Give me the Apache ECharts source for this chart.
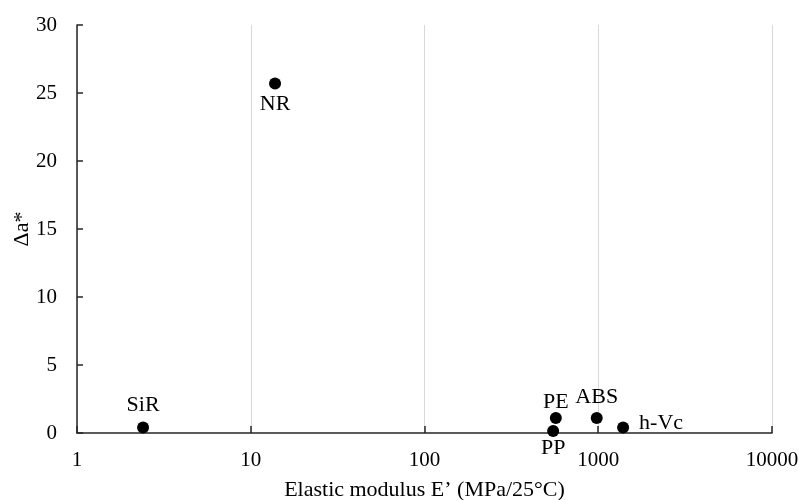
<!DOCTYPE html>
<html>
<head>
<meta charset="utf-8">
<script src="https://cdn.jsdelivr.net/npm/echarts@6/dist/echarts.min.js"></script>
<style>html,body{margin:0;padding:0;background:#fff;}#c{width:803px;height:500px;}</style>
</head>
<body>
<div id="c"></div>
<script>
var materials = ['SiR', 'NR', 'PE', 'PP', 'ABS', 'h-Vc'];
var modulus = [2.4, 13.8, 570, 550, 980, 1390];
var deltaA = [0.4, 25.7, 1.1, 0.15, 1.1, 0.4];
var xTicks = [1, 10, 100, 1000, 10000];
var yTicks = [0, 5, 10, 15, 20, 25, 30];

var labelStyle = {
  'SiR': {position: 'top', distance: 5},
  'NR': {position: 'bottom', distance: 4},
  'PE': {position: 'top', distance: -1},
  'PP': {position: 'bottom', distance: 0},
  'ABS': {position: 'top', distance: 4},
  'h-Vc': {position: 'right', distance: 10, offset: [0, -4]}
};

var font = 'Liberation Serif';
var data = materials.map(function (m, i) {
  return {name: m, value: [modulus[i], deltaA[i]], label: labelStyle[m]};
});

var chart = echarts.init(document.getElementById('c'), null, {renderer: 'canvas'});
chart.setOption({
  backgroundColor: '#fff',
  animation: false,
  grid: {left: 77, right: 31, top: 25, bottom: 67, containLabel: false, outerBoundsMode: 'none'},
  xAxis: {
    type: 'log', logBase: 10, min: xTicks[0], max: xTicks[xTicks.length - 1],
    name: 'Elastic modulus E\u2019 (MPa/25\u00B0C)', nameLocation: 'middle', nameGap: 46,
    nameMoveOverlap: false,
    nameTextStyle: {fontFamily: font, fontSize: 22, color: '#000'},
    axisLine: {show: true, lineStyle: {color: '#262626', width: 1.5}},
    axisTick: {show: true, inside: true, length: 7, lineStyle: {color: '#262626', width: 1.5}},
    minorTick: {show: false},
    axisLabel: {fontFamily: font, fontSize: 21, color: '#000', margin: 17,
      formatter: function (v) { return String(Math.round(v)); }},
    splitLine: {show: true, lineStyle: {color: '#d9d9d9', width: 1}}
  },
  yAxis: {
    type: 'value', min: yTicks[0], max: yTicks[yTicks.length - 1], interval: 5,
    name: '\u0394a*', nameLocation: 'middle', nameGap: 44, nameRotate: 90,
    nameMoveOverlap: false,
    nameTextStyle: {fontFamily: font, fontSize: 22, color: '#000'},
    axisLine: {show: true, lineStyle: {color: '#262626', width: 1.5}},
    axisTick: {show: true, inside: true, length: 6, lineStyle: {color: '#262626', width: 1.5}},
    axisLabel: {fontFamily: font, fontSize: 21, color: '#000', margin: 20},
    splitLine: {show: false}
  },
  series: [{
    type: 'scatter',
    symbol: 'circle',
    symbolSize: 12,
    itemStyle: {color: '#000', opacity: 1},
    label: {show: true, formatter: '{b}', fontFamily: font, fontSize: 22, color: '#000'},
    data: data
  }]
});
</script>
</body>
</html>
